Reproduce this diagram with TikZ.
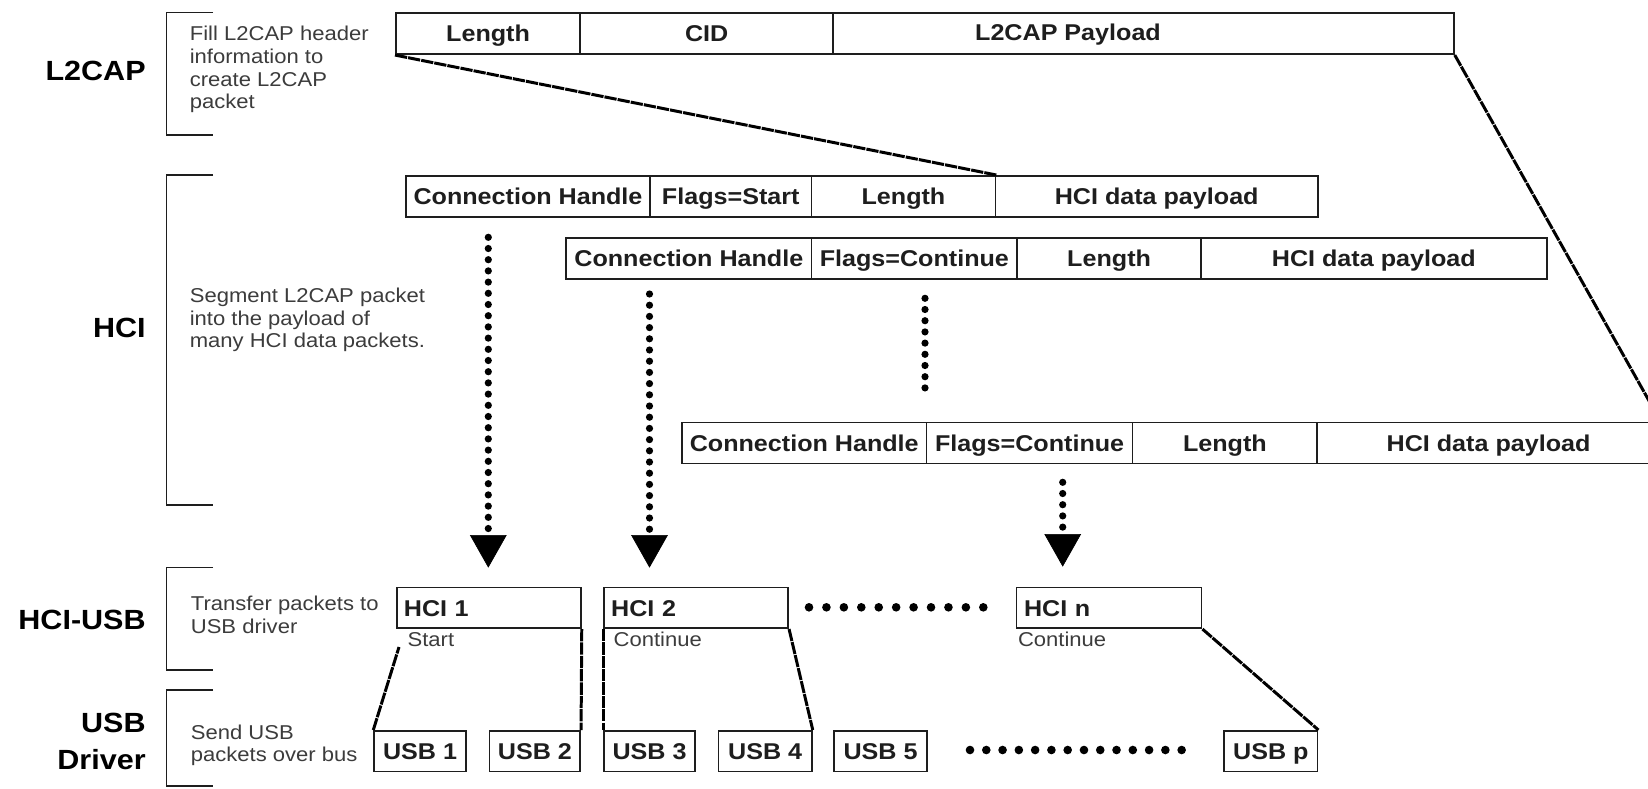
\documentclass[tikz,border=0pt]{standalone}
\usepackage{fontspec}
\setmainfont{Liberation Sans}[FakeStretch=1.1]
\usetikzlibrary{arrows.meta}

% one drawing unit (a pixel of the layout grid)
\newdimen\pxu \pxu=0.02cm

\definecolor{ink}{HTML}{1E1E1E}
\definecolor{note}{HTML}{3C3C3C}

\tikzset{
  every node/.style={inner sep=0pt},
  cell/.style={draw=ink, line width=1pt, anchor=north west,
    minimum height=41\pxu, text=ink,
    font=\fontsize{13}{15}\selectfont\bfseries,
    text height=9.3pt, text depth=0pt},
  celltext/.style={text=ink, font=\fontsize{13}{15}\selectfont\bfseries,
    text height=9.3pt, text depth=0pt},
  hcibox/.style={cell, minimum height=40.6\pxu, text width=170\pxu, align=left},
  usbbox/.style={cell, minimum height=40.7\pxu},
  flag/.style={text=note, anchor=west, font=\fontsize{11.4}{12.9}\selectfont,
    text height=8.2pt, text depth=0pt},
  notetext/.style={text=note, anchor=west, align=left,
    font=\fontsize{11.4}{12.9}\selectfont},
  layer/.style={text=black, anchor=east, align=right,
    font=\fontsize{15.8}{20.9}\selectfont\bfseries},
  bracket/.style={draw=ink, line width=0.9pt},
  segline/.style={draw=black, line width=1.7pt, dash pattern=on 7pt off 0.6pt},
  dotcol/.style={draw=black, line width=7.2\pxu, line cap=round,
    dash pattern=on 0pt off 11.2\pxu},
  dotarrow/.style={dotcol,
    -{Triangle[width=20.9pt, length=18.6pt, line width=0.4pt]}},
  dot/.style={fill=black}
}

\begin{document}
\begin{tikzpicture}[x=0.02cm, y=-0.02cm]
\useasboundingbox (0,0) rectangle (1648,788);
\fill[white] (0,0) rectangle (1648,788);

% ---------- layer labels ----------
\node[layer] (lyl2cap) at (146,71.3) {L2CAP};
\node[layer] (lyhci)   at (146,328.3) {HCI};
\node[layer] (lyhciusb) at (146,620) {HCI-USB};
\node[layer] (lyusb)   at (146,741.7) {USB\\Driver};

% ---------- brackets ----------
\draw[bracket] (213,12.3) -- (166.5,12.3) -- (166.5,135) -- (213,135);
\draw[bracket] (213,175) -- (166.5,175) -- (166.5,505) -- (213,505);
\draw[bracket] (213,567.3) -- (166.5,567.3) -- (166.5,670) -- (213,670);
\draw[bracket] (213,690) -- (166.5,690) -- (166.5,786) -- (213,786);

% ---------- layer descriptions ----------
\node[notetext] (dl2cap) at (189.5,69.5)
  {Fill L2CAP header\\information to\\create L2CAP\\packet};
\node[notetext] (dhci) at (189.5,320)
  {Segment L2CAP packet\\into the payload of\\many HCI data packets.};
\node[notetext] (dhciusb) at (190.5,614.7)
  {Transfer packets to\\USB driver};
\node[notetext] (dusb) at (190.5,745.3)
  {Send USB\\packets over bus};

% ---------- L2CAP packet ----------
\node[cell, minimum width=184.4\pxu] (l2len) at (395,12.3) {Length};
\node[cell, minimum width=252.8\pxu] (l2cid) at (579.4,12.3) {CID};
\node[cell, minimum width=620.8\pxu] (l2pay) at (832.2,12.3) {};
\node[celltext] (l2paytxt) at (1068,32.8) {L2CAP Payload};

% ---------- HCI data packets ----------
\node[cell, minimum width=244.2\pxu] (a1) at (405,175) {Connection Handle};
\node[cell, minimum width=161.3\pxu] (b1) at (649.2,175) {Flags=Start};
\node[cell, minimum width=184.1\pxu] (c1) at (810.5,175) {Length};
\node[cell, minimum width=322.4\pxu] (d1) at (994.6,175) {HCI data payload};

\node[cell, minimum width=245.1\pxu] (a2) at (565.4,237.3) {Connection Handle};
\node[cell, minimum width=205.9\pxu] (b2) at (810.5,237.3) {Flags=Continue};
\node[cell, minimum width=183.6\pxu] (c2) at (1016.4,237.3) {Length};
\node[cell, minimum width=345.8\pxu] (d2) at (1200,237.3) {HCI data payload};

\node[cell, minimum width=244.7\pxu] (a3) at (681,421.7) {Connection Handle};
\node[cell, minimum width=206\pxu]   (b3) at (925.7,421.7) {Flags=Continue};
\node[cell, minimum width=184.6\pxu] (c3) at (1131.7,421.7) {Length};
\node[cell, minimum width=342.7\pxu] (d3) at (1316.3,421.7) {HCI data payload};

% ---------- HCI-USB packets ----------
\node[hcibox, minimum width=184\pxu] (h1) at (396,586.7) {HCI 1};
\node[hcibox, minimum width=184\pxu] (h2) at (603.3,586.7) {HCI 2};
\node[hcibox, minimum width=185\pxu] (hn) at (1015.7,586.7) {HCI n};

\node[flag] (st1) at (407.3,639.3) {Start};
\node[flag] (st2) at (613.3,639.3) {Continue};
\node[flag] (stn) at (1017.7,639.3) {Continue};

\foreach \i in {0,...,10}
  \fill[dot] (809+17.43*\i,607.3) circle[radius=4.3\pxu];

% ---------- USB packets ----------
\node[usbbox, minimum width=91.7\pxu] (usb1) at (373.3,730) {USB 1};
\node[usbbox, minimum width=90.6\pxu] (usb2) at (488.7,730) {USB 2};
\node[usbbox, minimum width=90.7\pxu] (usb3) at (603.3,730) {USB 3};
\node[usbbox, minimum width=93.3\pxu] (usb4) at (717.7,730) {USB 4};
\node[usbbox, minimum width=92.7\pxu] (usb5) at (833.3,730) {USB 5};
\node[usbbox, minimum width=93.4\pxu] (usbp) at (1223.3,730) {USB p};

\foreach \i in {0,...,13}
  \fill[dot] (970+16.28*\i,750) circle[radius=4.3\pxu];

% ---------- segmentation lines ----------
\coordinate (st1cut) at (399,647);
\draw[segline] (l2len.south west) -- (c1.north east);
\draw[segline] (l2pay.south east) -- (d3.north east);
\draw[segline] (usb1.north west) -- (st1cut);
\draw[segline] (h1.south east) -- (usb2.north east);
\draw[segline] (h2.south west) -- (usb3.north west);
\draw[segline] (h2.south east) -- (usb4.north east);
\draw[segline] (hn.south east) -- (usbp.north east);

% ---------- dotted hand-over arrows ----------
\coordinate (ar1s) at (488.3,237.3);  \coordinate (ar1e) at (488.3,567.7);
\coordinate (ar2s) at (649.5,294);    \coordinate (ar2e) at (649.5,567.7);
\coordinate (colS) at (925,298.3);    \coordinate (colE) at (925,393.3);
\coordinate (ar3s) at (1062.7,482.3); \coordinate (ar3e) at (1062.7,566.7);
\draw[dotarrow] (ar1s) -- (ar1e);
\draw[dotarrow] (ar2s) -- (ar2e);
\draw[dotcol]   (colS) -- (colE);
\draw[dotarrow] (ar3s) -- (ar3e);
\end{tikzpicture}
\end{document}
